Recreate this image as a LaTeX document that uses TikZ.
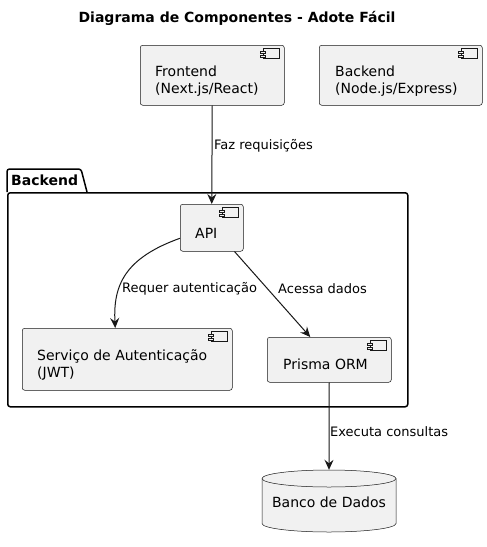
\documentclass[tikz,border=0pt]{standalone}
\usepackage{fontspec}
\setmainfont{DejaVu Sans}
\usetikzlibrary{arrows.meta,calc}
\definecolor{compfill}{HTML}{F1F1F1}
\definecolor{compline}{HTML}{181818}
\newcommand\cmpicon[1]{%
  \begin{scope}[shift={(#1.north east)}]
    \draw[compline, line width=0.5pt, fill=compfill] (-21.5,3.5) rectangle (-5,13.5);
    \draw[compline, line width=0.5pt, fill=compfill] (-24,6) rectangle (-19,8);
    \draw[compline, line width=0.5pt, fill=compfill] (-24,10) rectangle (-19,12);
  \end{scope}}
\begin{document}
\begin{tikzpicture}[x=1pt,y=-1pt,
  comp/.style={draw=compline, fill=compfill, line width=0.5pt, rounded corners=2.5pt, inner sep=0pt, anchor=north west},
  ctext/.style={anchor=west, align=left, inner sep=0pt, font=\fontsize{14}{17.5}\selectfont},
  lbl/.style={anchor=west, inner sep=0pt, font=\fontsize{13}{15}\selectfont},
  conn/.style={draw=compline, line width=1pt, -{Stealth[length=10pt,width=9pt,inset=3.5pt]}},
]
\fill[white] (0,0) rectangle (487,547);
\useasboundingbox (0,0) rectangle (487,547);

% title
\node[inner sep=0pt, font=\bfseries\fontsize{14}{17}\selectfont] (title) at (237,18) {Diagrama de Componentes - Adote Fácil};

% package
\draw[line width=1.5pt, rounded corners=2.5pt, fill=white] (7,192) -- (7,169) -- (81,169) -- (87,192);
\node[draw, line width=1.5pt, rounded corners=2.5pt, minimum width=400pt, minimum height=214pt, anchor=north west, inner sep=0pt] (pkg) at (7,192) {};
\node[anchor=west, inner sep=0pt, font=\bfseries\fontsize{14}{17}\selectfont] (pkgname) at (11,180) {Backend};

% components
\node[comp, minimum width=144pt, minimum height=60pt] (front) at (140,45) {};
\cmpicon{front}
\node[ctext] (frontT) at (155,81) {Frontend\\(Next.js/React)};

\node[comp, minimum width=163pt, minimum height=60pt] (back) at (319,45) {};
\cmpicon{back}
\node[ctext] (backT) at (335,81) {Backend\\(Node.js/Express)};

\node[comp, minimum width=63pt, minimum height=47pt] (api) at (180,204) {};
\cmpicon{api}
\node[ctext] (apiT) at (195,233) {API};

\node[comp, minimum width=210pt, minimum height=62pt] (serv) at (22,328) {};
\cmpicon{serv}
\node[ctext] (servT) at (37,365) {Serviço de Autenticação\\(JWT)};

\node[comp, minimum width=124pt, minimum height=45pt] (prisma) at (267,337) {};
\cmpicon{prisma}
\node[ctext] (prismaT) at (283,364) {Prisma ORM};

% database cylinder
\node[minimum width=134pt, minimum height=62pt, inner sep=0pt] (db) at (329,501) {};
\draw[compline, line width=0.5pt, fill=compfill]
  (262,478.5) -- (262,523.5)
  .. controls (262,528.2) and (292,532) .. (329,532)
  .. controls (366,532) and (396,528.2) .. (396,523.5)
  -- (396,478.5)
  .. controls (396,473.8) and (366,470) .. (329,470)
  .. controls (292,470) and (262,473.8) .. (262,478.5) -- cycle;
\draw[compline, line width=0.5pt]
  (262,478.5) .. controls (262,483.2) and (292,487) .. (329,487)
  .. controls (366,487) and (396,483.2) .. (396,478.5);
\node[font=\fontsize{14}{17}\selectfont, inner sep=0pt] (dbT) at (329,502) {Banco de Dados};

% connectors
\draw[conn] (front.south) -- (api.north);
\node[lbl] (l1) at (214,146) {Faz requisições};

\draw[conn] ([yshift=-10.5pt]api.west) .. controls (125,258) and (113,285) .. ([xshift=-12pt]serv.north);
\node[lbl] (l2) at (122,289) {Requer autenticação};

\draw[conn] ([xshift=-9pt]api.south east) -- ([xshift=-19pt]prisma.north);
\node[lbl] (l3) at (278,289) {Acessa dados};

\draw[conn] (prisma.south) -- (db.north);
\node[lbl] (l4) at (330,432) {Executa consultas};
\end{tikzpicture}
\end{document}
